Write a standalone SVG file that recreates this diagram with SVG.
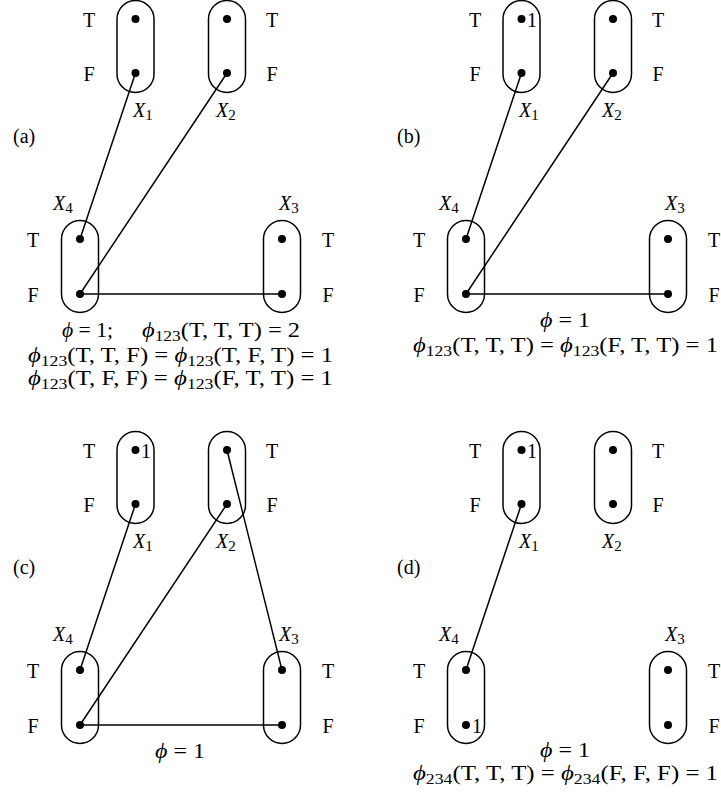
<svg xmlns="http://www.w3.org/2000/svg" width="721" height="794" viewBox="0 0 721 794" font-family="'Liberation Serif', 'DejaVu Serif', 'Times New Roman', serif">
<style>
.cap{fill:none;stroke:#000;stroke-width:1.5}
.dot{fill:#000}
.edge{stroke:#000;stroke-width:1.5;fill:none}
text{font-size:20px;fill:#000}
.f{font-size:21px}
.m{text-anchor:middle}
.it{font-style:italic}
.sub{font-size:15px}
</style>
<defs>
<rect id="capsule" class="cap" x="-18.5" y="-18.5" width="37" height="92" rx="18.5"/>
</defs>

<!-- Panel (a) -->
<g id="panel-a">
  <text x="13" y="143">(a)</text>
  <g id="a-edges">
    <line class="edge" x1="135.5" y1="73" x2="80" y2="239"/>
    <line class="edge" x1="227" y1="73" x2="80" y2="294"/>
    <line class="edge" x1="80" y1="294" x2="282" y2="294"/>
  </g>
  <g id="a-X1">
    <use href="#capsule" x="135.5" y="19"/>
    <circle class="dot" cx="135.5" cy="19" r="4"/><circle class="dot" cx="135.5" cy="73" r="4"/>
    <text class="m" x="89" y="27">T</text><text class="m" x="89" y="81">F</text>
    <text x="133" y="117"><tspan class="it">X</tspan><tspan class="sub" dy="3">1</tspan></text>
  </g>
  <g id="a-X2">
    <use href="#capsule" x="227" y="19"/>
    <circle class="dot" cx="227" cy="19" r="4"/><circle class="dot" cx="227" cy="73" r="4"/>
    <text class="m" x="272" y="27">T</text><text class="m" x="272" y="81">F</text>
    <text x="216" y="117"><tspan class="it">X</tspan><tspan class="sub" dy="3">2</tspan></text>
  </g>
  <g id="a-X4">
    <use href="#capsule" x="80" y="239"/>
    <circle class="dot" cx="80" cy="239" r="4"/><circle class="dot" cx="80" cy="294" r="4"/>
    <text class="m" x="33" y="247">T</text><text class="m" x="33" y="302">F</text>
    <text x="53" y="210"><tspan class="it">X</tspan><tspan class="sub" dy="3">4</tspan></text>
  </g>
  <g id="a-X3">
    <use href="#capsule" x="282" y="239"/>
    <circle class="dot" cx="282" cy="239" r="4"/><circle class="dot" cx="282" cy="294" r="4"/>
    <text class="m" x="328" y="247">T</text><text class="m" x="328" y="302">F</text>
    <text x="279" y="210"><tspan class="it">X</tspan><tspan class="sub" dy="3">3</tspan></text>
  </g>
  <text class="f" x="62" y="337" textLength="51" lengthAdjust="spacingAndGlyphs"><tspan class="it">ϕ</tspan> = 1;</text>
  <text class="f" x="142" y="337" textLength="158" lengthAdjust="spacingAndGlyphs"><tspan class="it">ϕ</tspan><tspan class="sub" dy="4">123</tspan><tspan dy="-4">(T, T, T) = 2</tspan></text>
  <text class="f" x="28" y="362" textLength="305" lengthAdjust="spacingAndGlyphs"><tspan class="it">ϕ</tspan><tspan class="sub" dy="4">123</tspan><tspan dy="-4">(T, T, F) = </tspan><tspan class="it">ϕ</tspan><tspan class="sub" dy="4">123</tspan><tspan dy="-4">(T, F, T) = 1</tspan></text>
  <text class="f" x="28" y="385" textLength="305" lengthAdjust="spacingAndGlyphs"><tspan class="it">ϕ</tspan><tspan class="sub" dy="4">123</tspan><tspan dy="-4">(T, F, F) = </tspan><tspan class="it">ϕ</tspan><tspan class="sub" dy="4">123</tspan><tspan dy="-4">(F, T, T) = 1</tspan></text>
</g>

<!-- Panel (b) -->
<g id="panel-b" transform="translate(386,0)">
  <text x="11" y="143">(b)</text>
  <g id="b-edges">
    <line class="edge" x1="135.5" y1="73" x2="80" y2="239"/>
    <line class="edge" x1="227" y1="73" x2="80" y2="294"/>
    <line class="edge" x1="80" y1="294" x2="282" y2="294"/>
  </g>
  <g id="b-X1">
    <use href="#capsule" x="135.5" y="19"/>
    <circle class="dot" cx="135.5" cy="19" r="4"/><circle class="dot" cx="135.5" cy="73" r="4"/>
    <text x="141" y="27">1</text>
    <text class="m" x="89" y="27">T</text><text class="m" x="89" y="81">F</text>
    <text x="133" y="117"><tspan class="it">X</tspan><tspan class="sub" dy="3">1</tspan></text>
  </g>
  <g id="b-X2">
    <use href="#capsule" x="227" y="19"/>
    <circle class="dot" cx="227" cy="19" r="4"/><circle class="dot" cx="227" cy="73" r="4"/>
    <text class="m" x="272" y="27">T</text><text class="m" x="272" y="81">F</text>
    <text x="216" y="117"><tspan class="it">X</tspan><tspan class="sub" dy="3">2</tspan></text>
  </g>
  <g id="b-X4">
    <use href="#capsule" x="80" y="239"/>
    <circle class="dot" cx="80" cy="239" r="4"/><circle class="dot" cx="80" cy="294" r="4"/>
    <text class="m" x="33" y="247">T</text><text class="m" x="33" y="302">F</text>
    <text x="53" y="210"><tspan class="it">X</tspan><tspan class="sub" dy="3">4</tspan></text>
  </g>
  <g id="b-X3">
    <use href="#capsule" x="282" y="239"/>
    <circle class="dot" cx="282" cy="239" r="4"/><circle class="dot" cx="282" cy="294" r="4"/>
    <text class="m" x="328" y="247">T</text><text class="m" x="328" y="302">F</text>
    <text x="279" y="210"><tspan class="it">X</tspan><tspan class="sub" dy="3">3</tspan></text>
  </g>
  <text class="f" x="154" y="327" textLength="50" lengthAdjust="spacingAndGlyphs"><tspan class="it">ϕ</tspan> = 1</text>
  <text class="f" x="27" y="352" textLength="305" lengthAdjust="spacingAndGlyphs"><tspan class="it">ϕ</tspan><tspan class="sub" dy="4">123</tspan><tspan dy="-4">(T, T, T) = </tspan><tspan class="it">ϕ</tspan><tspan class="sub" dy="4">123</tspan><tspan dy="-4">(F, T, T) = 1</tspan></text>
</g>

<!-- Panel (c) -->
<g id="panel-c" transform="translate(0,431)">
  <text x="13" y="143">(c)</text>
  <g id="c-edges">
    <line class="edge" x1="135.5" y1="73" x2="80" y2="239"/>
    <line class="edge" x1="227" y1="73" x2="80" y2="294"/>
    <line class="edge" x1="227" y1="19" x2="282" y2="239"/>
    <line class="edge" x1="80" y1="294" x2="282" y2="294"/>
  </g>
  <g id="c-X1">
    <use href="#capsule" x="135.5" y="19"/>
    <circle class="dot" cx="135.5" cy="19" r="4"/><circle class="dot" cx="135.5" cy="73" r="4"/>
    <text x="141" y="27">1</text>
    <text class="m" x="89" y="27">T</text><text class="m" x="89" y="81">F</text>
    <text x="133" y="117"><tspan class="it">X</tspan><tspan class="sub" dy="3">1</tspan></text>
  </g>
  <g id="c-X2">
    <use href="#capsule" x="227" y="19"/>
    <circle class="dot" cx="227" cy="19" r="4"/><circle class="dot" cx="227" cy="73" r="4"/>
    <text class="m" x="272" y="27">T</text><text class="m" x="272" y="81">F</text>
    <text x="216" y="117"><tspan class="it">X</tspan><tspan class="sub" dy="3">2</tspan></text>
  </g>
  <g id="c-X4">
    <use href="#capsule" x="80" y="239"/>
    <circle class="dot" cx="80" cy="239" r="4"/><circle class="dot" cx="80" cy="294" r="4"/>
    <text class="m" x="33" y="247">T</text><text class="m" x="33" y="302">F</text>
    <text x="53" y="210"><tspan class="it">X</tspan><tspan class="sub" dy="3">4</tspan></text>
  </g>
  <g id="c-X3">
    <use href="#capsule" x="282" y="239"/>
    <circle class="dot" cx="282" cy="239" r="4"/><circle class="dot" cx="282" cy="294" r="4"/>
    <text class="m" x="328" y="247">T</text><text class="m" x="328" y="302">F</text>
    <text x="279" y="210"><tspan class="it">X</tspan><tspan class="sub" dy="3">3</tspan></text>
  </g>
  <text class="f" x="155" y="327" textLength="50" lengthAdjust="spacingAndGlyphs"><tspan class="it">ϕ</tspan> = 1</text>
</g>

<!-- Panel (d) -->
<g id="panel-d" transform="translate(386,431)">
  <text x="11" y="143">(d)</text>
  <g id="d-edges">
    <line class="edge" x1="135.5" y1="73" x2="80" y2="239"/>
  </g>
  <g id="d-X1">
    <use href="#capsule" x="135.5" y="19"/>
    <circle class="dot" cx="135.5" cy="19" r="4"/><circle class="dot" cx="135.5" cy="73" r="4"/>
    <text x="141" y="27">1</text>
    <text class="m" x="89" y="27">T</text><text class="m" x="89" y="81">F</text>
    <text x="133" y="117"><tspan class="it">X</tspan><tspan class="sub" dy="3">1</tspan></text>
  </g>
  <g id="d-X2">
    <use href="#capsule" x="227" y="19"/>
    <circle class="dot" cx="227" cy="19" r="4"/><circle class="dot" cx="227" cy="73" r="4"/>
    <text class="m" x="272" y="27">T</text><text class="m" x="272" y="81">F</text>
    <text x="216" y="117"><tspan class="it">X</tspan><tspan class="sub" dy="3">2</tspan></text>
  </g>
  <g id="d-X4">
    <use href="#capsule" x="80" y="239"/>
    <circle class="dot" cx="80" cy="239" r="4"/><circle class="dot" cx="80" cy="294" r="4"/>
    <text x="86" y="302">1</text>
    <text class="m" x="33" y="247">T</text><text class="m" x="33" y="302">F</text>
    <text x="53" y="210"><tspan class="it">X</tspan><tspan class="sub" dy="3">4</tspan></text>
  </g>
  <g id="d-X3">
    <use href="#capsule" x="282" y="239"/>
    <circle class="dot" cx="282" cy="239" r="4"/><circle class="dot" cx="282" cy="294" r="4"/>
    <text class="m" x="328" y="247">T</text><text class="m" x="328" y="302">F</text>
    <text x="279" y="210"><tspan class="it">X</tspan><tspan class="sub" dy="3">3</tspan></text>
  </g>
  <text class="f" x="154" y="326" textLength="50" lengthAdjust="spacingAndGlyphs"><tspan class="it">ϕ</tspan> = 1</text>
  <text class="f" x="27" y="349" textLength="305" lengthAdjust="spacingAndGlyphs"><tspan class="it">ϕ</tspan><tspan class="sub" dy="4">234</tspan><tspan dy="-4">(T, T, T) = </tspan><tspan class="it">ϕ</tspan><tspan class="sub" dy="4">234</tspan><tspan dy="-4">(F, F, F) = 1</tspan></text>
</g>
</svg>
